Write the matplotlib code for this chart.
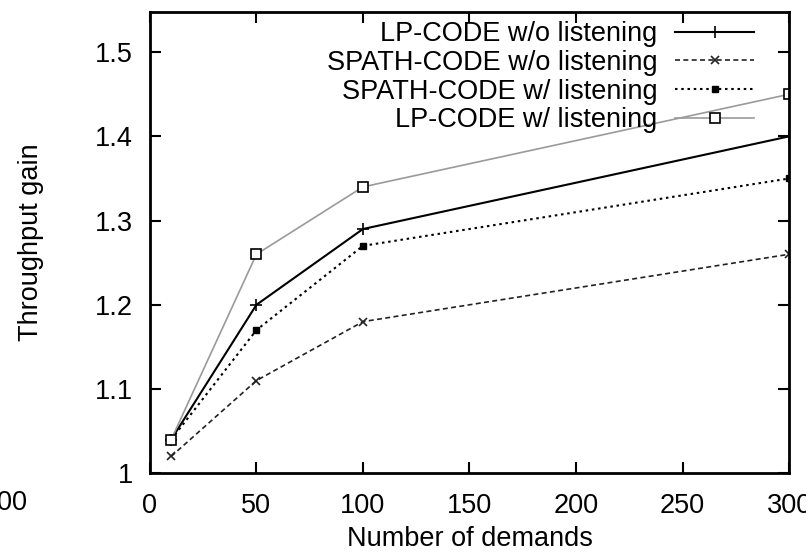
import matplotlib
matplotlib.use("Agg")
import matplotlib.pyplot as plt
from matplotlib.ticker import FormatStrFormatter

plt.rcParams['font.family'] = ['Liberation Sans', 'DejaVu Sans']

# data
demands = [10, 50, 100, 300]
lp_wo = [1.04, 1.20, 1.29, 1.40]
spath_wo = [1.02, 1.11, 1.18, 1.26]
spath_w = [1.04, 1.17, 1.27, 1.35]
lp_w = [1.04, 1.26, 1.34, 1.45]
xticks = [0, 50, 100, 150, 200, 250, 300]
yticks = [1, 1.1, 1.2, 1.3, 1.4, 1.5]

fig = plt.figure(figsize=(8.06, 5.6), dpi=100)
ax = fig.add_axes([0.186, 0.155, 0.793, 0.824])

ax.plot(demands, lp_wo, "-", color="black", linewidth=1.5, marker="+",
        markersize=8, markeredgewidth=1.2, label="LP-CODE w/o listening")
ax.plot(demands, spath_wo, color="#222222", linestyle=(0, (3, 2)), linewidth=1.2,
        marker="x", markersize=6, markeredgewidth=1.2, label="SPATH-CODE w/o listening")
ax.plot(demands, spath_w, color="black", linestyle=(0, (1.2, 1.8)), linewidth=1.5,
        marker="s", markersize=5, label="SPATH-CODE w/ listening")
ax.plot(demands, lp_w, "-", color="#9a9a9a", linewidth=1.2, marker="s",
        markersize=7, markerfacecolor="white", markeredgecolor="black",
        markeredgewidth=1.2, label="LP-CODE w/ listening")

ax.set_xlim(0, 300)
ax.set_ylim(1, 1.548)
ax.set_xticks(xticks)
ax.set_yticks(yticks)
ax.yaxis.set_major_formatter(FormatStrFormatter("%g"))
ax.tick_params(direction="in", length=8, width=1.5, top=True, right=True,
               labelsize=19.5)
ax.tick_params(axis="x", pad=14)
ax.tick_params(axis="y", pad=12)
for s in ax.spines.values():
    s.set_linewidth(2)

ax.set_xlabel("Number of demands", fontsize=19.5, labelpad=5)
ax.set_ylabel("Throughput gain", fontsize=19.5, labelpad=37)

leg = ax.legend(loc="upper right", markerfirst=False, frameon=False,
                fontsize=19.5, handlelength=2.9, handletextpad=0.66,
                labelspacing=0.1, borderpad=0.0, borderaxespad=0.35,
                bbox_to_anchor=(0.96, 1.0))

# fragment of the neighbouring figure's tick label
fig.text(-0.004, 0.102, "00", fontsize=19.5, ha="left", va="center")

fig.savefig("out.png", dpi=100)
